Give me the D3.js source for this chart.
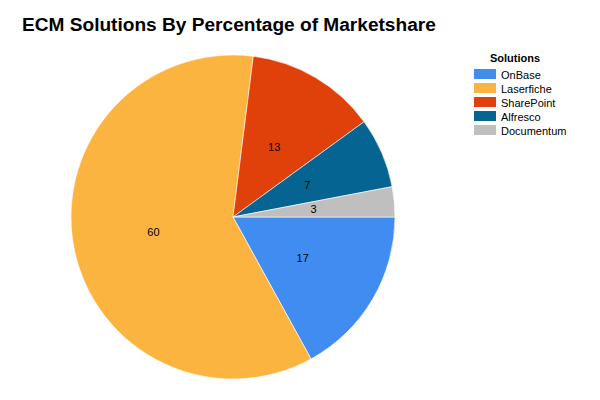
<!DOCTYPE html>
<html><head><meta charset="utf-8">
<script src="https://cdn.jsdelivr.net/npm/d3@7"></script>
<style>body{margin:0;background:#fff}svg{display:block;font-family:"Liberation Sans",Arial,sans-serif}</style>
</head><body><svg id="c" width="600" height="400"></svg>
<script>
const categories = ["OnBase","Laserfiche","SharePoint","Alfresco","Documentum"];
const values = [17,60,13,7,3];
const colors = ["#418CF0","#FCB441","#E0400A","#056492","#BFBFBF"];

const svg = d3.select("#c");
svg.append("rect").attr("width",600).attr("height",400).attr("fill","#fff");
svg.append("text").attr("x",22).attr("y",31).attr("font-size","19.1px").attr("font-weight","bold").attr("fill","#000")
  .text("ECM Solutions By Percentage of Marketshare");

const cx=233, cy=217, r=162;
const data = categories.map((c,i)=>({c, v:values[i]}));
const pie = d3.pie().value(d=>d.v).sort(null).startAngle(Math.PI/2).endAngle(Math.PI/2+2*Math.PI);
const arc = d3.arc().innerRadius(0).outerRadius(r);
const labelArc = d3.arc().innerRadius(r*0.5).outerRadius(r*0.5);
const color = d3.scaleOrdinal().domain(categories).range(colors);
const g = svg.append("g").attr("transform",`translate(${cx},${cy})`);
const arcs = pie(data);
g.selectAll("path").data(arcs).join("path").attr("d",arc).attr("fill",d=>color(d.data.c))
  .attr("stroke","#fff").attr("stroke-width",0.6);
g.selectAll("text").data(arcs).join("text").attr("transform",d=>`translate(${labelArc.centroid(d)})`)
  .attr("text-anchor","middle").attr("dy","0.35em").attr("font-size","11px").attr("fill","#000").text(d=>d.data.v);

const lg = svg.append("g");
lg.append("text").attr("x",515).attr("y",62).attr("text-anchor","middle").attr("font-size","11px").attr("font-weight","bold").text("Solutions");
const rows = lg.selectAll("g.r").data(categories).join("g").attr("class","r").attr("transform",(d,i)=>`translate(474,${69+i*14})`);
rows.append("rect").attr("width",22).attr("height",10).attr("y",0).attr("fill",d=>color(d));
rows.append("text").attr("x",27).attr("y",9.5).attr("font-size","11px").attr("fill","#000").text(d=>d);
</script></body></html>
